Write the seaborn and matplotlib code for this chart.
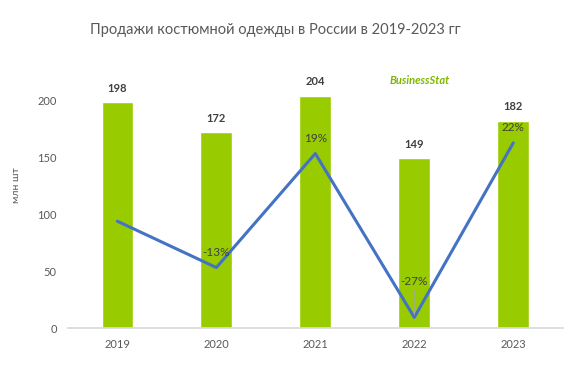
import matplotlib
matplotlib.use("Agg")
import matplotlib.pyplot as plt
import seaborn as sns
import pandas as pd

years = ["2019", "2020", "2021", "2022", "2023"]
sales = [198, 172, 204, 149, 182]
growth = [0, -13, 19, -27, 22]
growth_labels = ["", "-13%", "19%", "-27%", "22%"]

TITLE = "Продажи костюмной одежды в России в 2019-2023 гг"
YLABEL = "млн шт"

BAR_COLOR = "#99CC00"
LINE_COLOR = "#4472C4"
TEXT_COLOR = "#595959"

sns.set_theme(style="white")
plt.rcParams["font.family"] = ["Lato", "DejaVu Sans"]

df = pd.DataFrame({"year": years, "sales": sales, "growth": growth})

fig = plt.figure(figsize=(5.85, 3.78), dpi=100)
ax = fig.add_axes([0.116, 0.132, 0.846, 0.754])

sns.barplot(data=df, x="year", y="sales", color=BAR_COLOR, width=0.32,
            saturation=1, ax=ax)
ax.set_ylim(0, 250)
ax.set_yticks([0, 50, 100, 150, 200])
ax.set_xlim(-0.5, 4.5)
for s in ["top", "right", "left"]:
    ax.spines[s].set_visible(False)
ax.spines["bottom"].set_color("#D9D9D9")
ax.tick_params(axis="both", length=0, labelsize=8, colors=TEXT_COLOR, pad=8)
ax.set_xlabel("")
ax.set_ylabel(YLABEL, fontsize=7.5, color=TEXT_COLOR, labelpad=12)

for i, v in enumerate(sales):
    ax.annotate(str(v), (i, v), xytext=(0, 6), textcoords="offset points",
                ha="center", va="bottom", fontsize=8, fontweight="bold",
                color="#404040")

ax2 = ax.twinx()
sns.lineplot(x=list(range(len(years))), y=growth, color=LINE_COLOR,
             linewidth=2.2, ax=ax2)
ax2.set_ylim(-30, 50)
ax2.set_xlim(-0.5, 4.5)
ax2.axis("off")

# the 2022 label sits higher with a thin leader line, as in the original
offsets = [7, 7, 7, 22, 7]
for i, (g, lab) in enumerate(zip(growth, growth_labels)):
    if not lab:
        continue
    if offsets[i] > 10:
        ax2.annotate(lab, (i, g), xytext=(0, offsets[i]), textcoords="offset points",
                     ha="center", va="bottom", fontsize=8.5, color="#404040",
                     arrowprops=dict(arrowstyle="-", color="#A6A6A6", lw=0.6,
                                     shrinkA=0, shrinkB=2))
    else:
        ax2.annotate(lab, (i, g), xytext=(0, offsets[i]), textcoords="offset points",
                     ha="center", va="bottom", fontsize=8.5, color="#404040")

fig.text(0.47, 0.92, TITLE, ha="center", va="center", fontsize=10.5,
         color=TEXT_COLOR)
fig.text(0.718, 0.787, "BusinessStat", ha="center", va="center",
         fontsize=8, fontweight="bold", fontstyle="italic", color="#7DB700")

fig.savefig("out.png", dpi=100)
